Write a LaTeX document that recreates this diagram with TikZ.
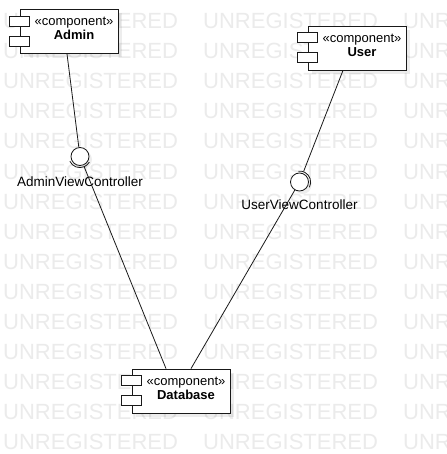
\documentclass[tikz,border=0pt]{standalone}
\usepackage{fontspec}
\setmainfont{Liberation Sans}
\usetikzlibrary{positioning,shadows}
\tikzset{
  comp/.style={rectangle, draw=black!90, line width=0.8pt, fill=white, minimum width=98pt, minimum height=44pt, inner sep=0pt,
    drop shadow={shadow xshift=4pt, shadow yshift=-4pt, fill=black, opacity=0.07}},
  comptext/.style={align=center, inner sep=0pt, font=\fontsize{13}{14}\selectfont},
  icon/.style={draw=black!90, line width=0.8pt, fill=white},
  ball/.style={circle, draw=black!90, line width=0.8pt, fill=white, minimum size=18pt, inner sep=0pt,
    drop shadow={shadow xshift=3pt, shadow yshift=-3pt, fill=black, opacity=0.07}},
  sock/.style={circle, minimum size=22pt, inner sep=0pt},
  wire/.style={draw=black!90, line width=0.8pt},
  lbl/.style={inner sep=0pt, font=\fontsize{13.5}{14}\selectfont},
  wmark/.style={anchor=base west, inner sep=0pt, text=black!8, font=\fontsize{22}{22}\selectfont}
}
\begin{document}
\begin{tikzpicture}[x=1pt, y=1pt]
\useasboundingbox (0,0) rectangle (446,-454);
\fill[white] (0,0) rectangle (446,-454);
%
\begin{scope}
\clip (0,0) rectangle (446,-454);
\foreach \r in {0,...,14}
  \foreach \c in {0,1,2}
    \node[wmark] (wm-\r-\c) at (3+200*\c, -29-30*\r) {UNREGISTERED};
\end{scope}
%
\foreach \n/\x/\y/\t in {admin/69/-31.5/Admin, user/357/-48/User, db/181/-391/Database} {
  \node[comp] (\n) at (\x,\y) {};
  \node[comptext] (\n-txt) at ([xshift=5pt, yshift=3pt]\n.center) {«component»\\\textbf{\t}};
  \draw[icon] ([xshift=-10pt, yshift=-7pt]\n.north west) rectangle ++(20pt,-10pt);
  \draw[icon] ([xshift=-10pt, yshift=-27pt]\n.north west) rectangle ++(20pt,-10pt);
}
%
\node[ball] (adminball) at (80,-156.5) {};
\node[sock] (adminsock) at (adminball.center) {};
\draw[wire] (adminsock.-155) arc[start angle=-155, end angle=-30, radius=11pt];
\node[lbl, below=11pt of adminball] (admin-lbl) {AdminViewController};
%
\node[ball] (userball) at (299.5,-182) {};
\node[sock] (usersock) at (userball.center) {};
\draw[wire] (usersock.-28) arc[start angle=-28, end angle=97, radius=11pt];
\node[lbl, below=8pt of userball] (user-lbl) {UserViewController};
%
\draw[wire] ([xshift=-2pt]admin.south) -- (adminball);
\draw[wire] ([xshift=-15pt]db.north) -- (adminsock);
\draw[wire] ([xshift=-14pt]user.south) -- (usersock);
\draw[wire] ([xshift=10pt]db.north) -- (userball);
\end{tikzpicture}
\end{document}
